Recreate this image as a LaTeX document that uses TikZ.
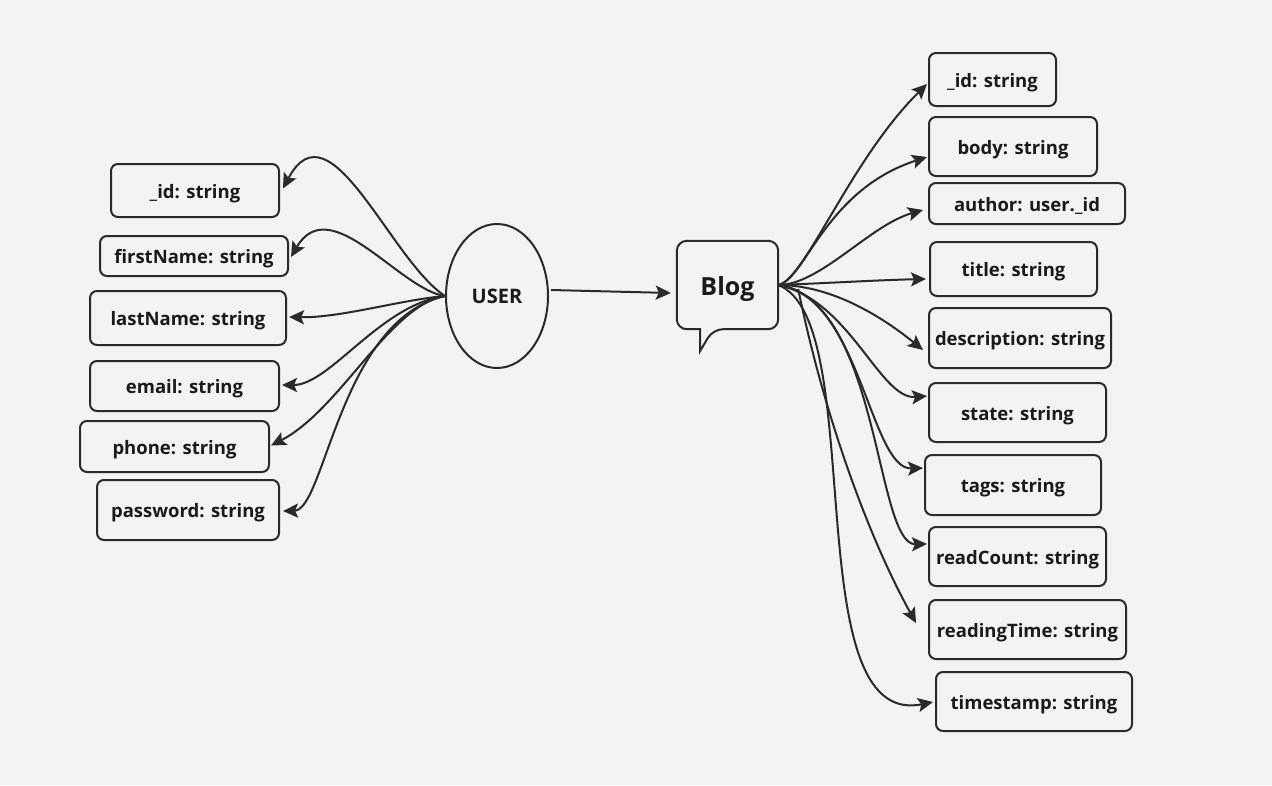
\documentclass[tikz,border=0pt]{standalone}
\usepackage{fontspec}
\setmainfont{Open Sans}
\usetikzlibrary{arrows.meta,shapes.geometric,calc}
\definecolor{bg}{HTML}{F3F3F3}
\definecolor{ink}{HTML}{2A2A2A}
\definecolor{txt}{HTML}{1A1A1A}
\tikzset{
	field/.style={draw=ink, rectangle, rounded corners=7pt, line width=2pt, inner sep=0pt, text=txt, text height=16pt, text depth=1pt, font=\fontsize{18.5}{22}\selectfont\bfseries},
	link/.style={draw=ink, line width=2pt, -{Stealth[length=15pt,width=14pt,inset=3pt]}}
}

\begin{document}
\begin{tikzpicture}[x=1pt, y=-1pt]
				\fill[bg] (0,0) rectangle (1272,785);
				% user side
				\node[draw=ink, ellipse, line width=2pt, minimum width=102pt, minimum height=144pt, inner sep=0pt, text=txt, font=\fontsize{20}{24}\selectfont\bfseries] (U)at(497, 296) {USER};
				\node[field, minimum width=168pt, minimum height=53pt] (U1)at(195, 190.5) {\_id: string};
				\node[field, minimum width=188pt, minimum height=40pt] (U2)at(194, 256) {firstName: string};
				\node[field, minimum width=196pt, minimum height=54pt] (U3)at(188, 318) {lastName: string};
				\node[field, minimum width=189pt, minimum height=50pt] (U4)at(184.5, 386) {email: string};
				\node[field, minimum width=189pt, minimum height=51pt] (U5)at(174.5, 446.5) {phone: string};
				\node[field, minimum width=182pt, minimum height=60pt] (U6)at(188, 510) {password: string};
				% blog side
				\node[minimum width=101pt, minimum height=88pt, inner sep=0pt, text=txt, text height=23pt, text depth=2pt, font=\fontsize{25}{30}\selectfont\bfseries] (B)at(727.5, 285) {Blog};
				\draw[ink, line width=2pt, rounded corners=10pt] (B.west) -- (B.north west) -- (B.north east) -- (B.south east) -- ($(B.south)+(-14.5,0)$) [sharp corners] -- ($(B.south)+(-27.5,22)$) -- ($(B.south)+(-27.5,0)$) [rounded corners=10pt] -- (B.south west) -- cycle;
				\node[field, minimum width=127pt, minimum height=53pt] (B1)at(992.5, 79.5) {\_id: string};
				\node[field, minimum width=168pt, minimum height=59pt] (B2)at(1013, 146.5) {body: string};
				\node[field, minimum width=196pt, minimum height=41pt] (B3)at(1027, 203.5) {author: user.\_id};
				\node[field, minimum width=167pt, minimum height=54pt] (B4)at(1013.5, 269) {title: string};
				\node[field, minimum width=182pt, minimum height=60pt] (B5)at(1020, 338) {description: string};
				\node[field, minimum width=177pt, minimum height=59pt] (B6)at(1017.5, 412.5) {state: string};
				\node[field, minimum width=176pt, minimum height=60pt] (B7)at(1013, 485) {tags: string};
				\node[field, minimum width=177pt, minimum height=59pt] (B8)at(1017.5, 556.5) {readCount: string};
				\node[field, minimum width=197pt, minimum height=59pt] (B9)at(1027.5, 629.5) {readingTime: string};
				\node[field, minimum width=196pt, minimum height=59pt] (B10)at(1034, 701.5) {timestamp: string};
				% user fields
				\draw[link] (U.west) .. controls (390,260) and (330,100) .. ($(U1.east)+(3,-2)$);
				\draw[link] (U.west) .. controls (400,290) and (330,190) .. ($(U2.east)+(2,1)$);
				\draw[link] (U.west) .. controls (400,300) and (340,318) .. ($(U3.east)+(2,-1)$);
				\draw[link] (U.west) .. controls (380,305) and (330,385) .. ($(U4.east)+(2,-1)$);
				\draw[link] (U.west) .. controls (390,305) and (340,410) .. ($(U5.east)+(1,-1)$);
				\draw[link] (U.west) .. controls (340,320) and (325,510) .. ($(U6.east)+(3,1)$);
				\draw[link] ($(U.east)+(2,-6)$) -- ($(B.west)+(-6,8)$);
				% blog fields
				\draw[link] (B.east) .. controls (805,280) and (850,160) .. ($(B1.west)+(-1,4.5)$);
				\draw[link] (B.east) .. controls (805,280) and (825,190) .. ($(B2.west)+(-1,10.5)$);
				\draw[link] (B.east) .. controls (820,285) and (870,225) .. ($(B3.west)+(-5,6.5)$);
				\draw[link] (B.east) .. controls (830,283) and (880,280) .. ($(B4.west)+(-3,10)$);
				\draw[link] (B.east) .. controls (830,285) and (880,315) .. ($(B5.west)+(-5,12)$);
				\draw[link] (B.east) .. controls (850,300) and (880,400) .. ($(B6.west)+(-1,-16.5)$);
				\draw[link] (B.east) .. controls (860,295) and (870,470) .. ($(B7.west)+(-1,-17)$);
				\draw[link] (B.east) .. controls (880,300) and (875,545) .. ($(B8.west)+(-1,-12.5)$);
				\draw[link] ($(B.east)+(20,4)$) .. controls (825,420) and (870,540) .. ($(B9.west)+(-12,-6.5)$);
				\draw[link] (B.east) .. controls (870,320) and (795,730) .. ($(B10.west)+(-2,0.5)$);
			\end{tikzpicture}
\end{document}
